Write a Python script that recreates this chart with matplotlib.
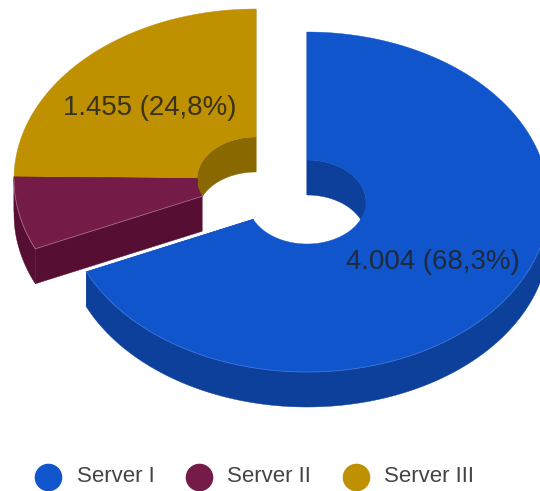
import numpy as np
import matplotlib
matplotlib.use('Agg')
import matplotlib.pyplot as plt
from matplotlib.patches import Polygon

plt.rcParams['font.family'] = ['Liberation Sans', 'DejaVu Sans']

# data
servers = ['Server I', 'Server II', 'Server III']
values = [4004, 406, 1455]
value_labels = ['4.004 (68,3%)', '', '1.455 (24,8%)']
colors = ['#1155cc', '#741b47', '#bf9000']
side_colors = ['#0d409a', '#560f33', '#8a6800']
edge_colors = ['#3a72d6', '#a56a88', '#bf9000']

# layout, in pixels
rx_out, ry_out = 242, 170
rx_in, ry_in = 59, 42
depth = 35
centers = [(307, 202), (256, 179), (256, 179)]
label_pos = [(433, 262), None, (150, 108)]
legend_x = [48, 199, 356]
legend_text_x = [77, 227, 384]
legend_y = 477


def arc(cx, cy, rx, ry, a0, a1, dy=0):
    # angles in degrees, clockwise from the top
    t = np.radians(np.linspace(a0, a1, max(int(abs(a1 - a0)) * 2, 2)))
    return np.column_stack([cx + rx * np.sin(t), cy - ry * np.cos(t) + dy])


def wall(ax, cx, cy, rx, ry, a0, a1, color, z):
    if a1 <= a0:
        return
    top = arc(cx, cy, rx, ry, a0, a1)
    bottom = arc(cx, cy, rx, ry, a0, a1, depth)
    ax.add_patch(Polygon(np.vstack([top, bottom[::-1]]), fc=color, ec=color, lw=0.3, zorder=z))


def draw_slice(ax, center, a0, a1, color, side, edge, z):
    cx, cy = center
    # back part of the hole
    wall(ax, cx, cy, rx_in, ry_in, a0, min(a1, 90), side, z)
    wall(ax, cx, cy, rx_in, ry_in, max(a0, 270), a1, side, z)
    # front part of the outside
    wall(ax, cx, cy, rx_out, ry_out, max(a0, 90), min(a1, 270), side, z)
    # cut faces
    for a in (a0, a1):
        p = np.vstack([arc(cx, cy, rx_in, ry_in, a, a + 1e-6)[0], arc(cx, cy, rx_out, ry_out, a, a + 1e-6)[0]])
        q = p + [0, depth]
        ax.add_patch(Polygon(np.vstack([p, q[::-1]]), fc=side, ec=side, lw=0.3, zorder=z))
    outer = arc(cx, cy, rx_out, ry_out, a0, a1)
    inner = arc(cx, cy, rx_in, ry_in, a0, a1)
    ax.add_patch(Polygon(np.vstack([outer, inner[::-1]]), fc=color, ec=color, lw=0.3, zorder=z + 0.5))
    # thin pale line where the top meets a front wall
    front = arc(cx, cy, rx_out, ry_out, max(a0, 90), min(a1, 270))
    ax.plot(front[:, 0], front[:, 1], color=edge, lw=0.6, zorder=z + 0.6)
    if a0 > 180:
        cut = np.vstack([inner[0], outer[0]])
        ax.plot(cut[:, 0], cut[:, 1], color=edge, lw=0.6, zorder=z + 0.6)


fig = plt.figure(figsize=(5.4, 4.91), dpi=100)
ax = fig.add_axes([0, 0, 1, 1])
ax.set_xlim(0, 540)
ax.set_ylim(491, 0)
ax.axis('off')

fractions = np.array(values) / sum(values)
edges = np.concatenate([[0], np.cumsum(fractions) * 360])
draw_order = [2, 1, 0]
for n, i in enumerate(draw_order):
    draw_slice(ax, centers[i], edges[i], edges[i + 1], colors[i], side_colors[i], edge_colors[i], n + 1)

for i, lab in enumerate(value_labels):
    if lab:
        ax.text(label_pos[i][0], label_pos[i][1], lab, fontsize=19.9, color='#222222', alpha=0.85,
                ha='center', va='center', zorder=10)

for i, name in enumerate(servers):
    ax.scatter(legend_x[i], legend_y, s=395, color=colors[i], lw=0, zorder=10)
    ax.text(legend_text_x[i], legend_y, name, fontsize=16, color='#444444', ha='left', va='center', zorder=10)

fig.savefig('out.png', dpi=100)
